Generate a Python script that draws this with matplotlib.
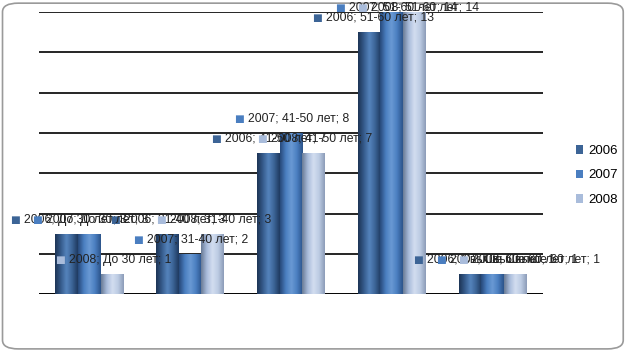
import matplotlib.pyplot as plt
import numpy as np
from matplotlib.colors import LinearSegmentedColormap
from matplotlib.patches import FancyBboxPatch, Patch

plt.rcParams["font.family"] = ["Liberation Sans", "DejaVu Sans"]

categories = ["До 30 лет", "31-40 лет", "41-50 лет", "51-60 лет", "Свыше 60 лет"]
years = ["2006", "2007", "2008"]
v2006 = [3, 3, 7, 13, 1]
v2007 = [3, 2, 8, 14, 1]
v2008 = [1, 3, 7, 14, 1]
values = [v2006, v2007, v2008]

base_colors = ["#3c6496", "#4a7ec0", "#a9bcdb"]
shades = [
    ["#1d3455", "#355a8a", "#5584bd", "#3c6496", "#1f3a60"],
    ["#27497a", "#4a7ec0", "#6a9ad4", "#4a7ec0", "#2c548a"],
    ["#6a7b96", "#a9bcdb", "#d3def0", "#bccbe3", "#8c9cb8"],
]

fig = plt.figure(figsize=(6.27, 3.51), dpi=100)
ax = fig.add_axes([0.062, 0.162, 0.804, 0.804])

# rounded frame round the whole picture
frame = FancyBboxPatch((0.004, 0.006), 0.99, 0.985, boxstyle="round,pad=0,rounding_size=0.025",
                       transform=fig.transFigure, facecolor="white", edgecolor="#9a9a9a",
                       linewidth=1.2, zorder=-10)
fig.patches.append(frame)

x = np.arange(len(categories))
width = 0.225
offsets = [-width, 0, width]

grad = np.linspace(0, 1, 64).reshape(1, -1)
for i, year in enumerate(years):
    cmap = LinearSegmentedColormap.from_list("c" + year, shades[i])
    rects = ax.bar(x + offsets[i], values[i], width, color=base_colors[i], zorder=3)
    for r in rects:
        x0, y0, w, h = r.get_x(), r.get_y(), r.get_width(), r.get_height()
        im = ax.imshow(grad, cmap=cmap, aspect="auto", extent=(x0, x0 + w, y0, y0 + h),
                       zorder=3.5, interpolation="bicubic")
        im.set_clip_path(r)

# data labels: small coloured square and "year; category; value"
for i, year in enumerate(years):
    for j, cat in enumerate(categories):
        v = values[i][j]
        ly = min(v + 0.7, 14.2)
        xc = x[j] + offsets[i]
        ax.annotate("■", (xc, ly), xytext=(-37.5, 0), textcoords="offset points",
                    ha="center", va="center", color=base_colors[i], fontsize=7.5,
                    family="DejaVu Sans", zorder=6, annotation_clip=False)
        ax.annotate(f"{year}; {cat}; {v}", (xc, ly), xytext=(-31, 0), textcoords="offset points",
                    ha="left", va="center", color="#222222", fontsize=8.8, zorder=6,
                    annotation_clip=False)

ax.set_xlim(-0.5, 4.5)
ax.set_ylim(0, 14)
ax.set_yticks(np.arange(0, 15, 2))
ax.yaxis.grid(True, color="black", linewidth=1.2, zorder=0)
ax.set_axisbelow(True)
ax.tick_params(left=False, bottom=False, labelleft=False, labelbottom=False)
for s in ax.spines.values():
    s.set_visible(False)
ax.axhline(0, color="black", linewidth=1.2, zorder=2)
ax.set_facecolor("none")

handles = [Patch(facecolor=c, edgecolor="none") for c in base_colors]
fig.legend(handles, years, loc="center", bbox_to_anchor=(0.952, 0.5), frameon=False,
           fontsize=9.5, handlelength=0.6, handleheight=0.6, handletextpad=0.4, labelspacing=0.95)

fig.savefig("out.png", dpi=100)
